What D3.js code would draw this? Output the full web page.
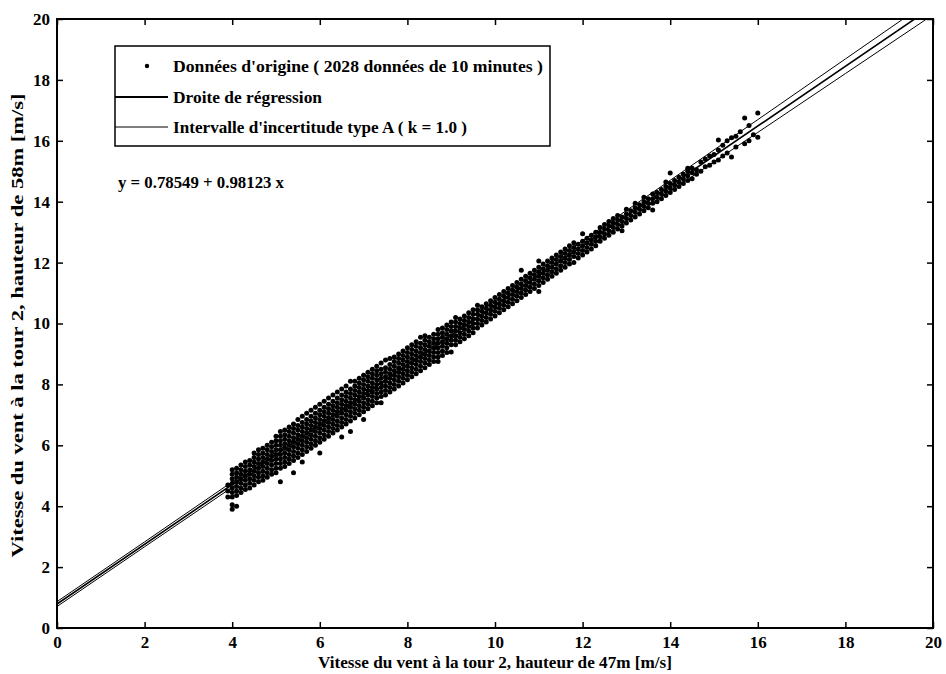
<!DOCTYPE html>
<html>
<head>
<meta charset="utf-8">
<script src="https://cdn.jsdelivr.net/npm/d3@7"></script>
<style>
  body { margin: 0; background: #fff; }
  svg text { font-family: "Liberation Serif", "DejaVu Serif", serif; font-weight: bold; fill: #000; }
</style>
</head>
<body>
<svg id="chart" width="946" height="674"></svg>
<script>
// regression from the printed equation
const intercept = 0.78549;
const slope = 0.98123;

const xTicks = [0, 2, 4, 6, 8, 10, 12, 14, 16, 18, 20];
const yTicks = [0, 2, 4, 6, 8, 10, 12, 14, 16, 18, 20];

// half width of the type A band, read along x
const bandX = [0, 2, 4, 6, 8, 10, 12, 14, 16, 18, 20];
const bandHalf = [0.08, 0.08, 0.09, 0.10, 0.12, 0.14, 0.16, 0.18, 0.21, 0.24, 0.27];

const legendLabels = [
  "Données d'origine ( 2028 données de 10 minutes )",
  "Droite de régression",
  "Intervalle d'incertitude type A ( k = 1.0 )"
];
const equationText = "y = 0.78549 + 0.98123 x";
const xTitle = "Vitesse du vent à la tour 2, hauteur de 47m [m/s]";
const yTitle = "Vitesse du vent à la tour 2, hauteur de 58m [m/s]";

// scatter columns: [x, [y values]]
const cloudLow = [
  [3.9, [4.3, 4.5, 4.7]],
  [4.0, [3.9, 4.05, 4.3, 4.45, 4.6, 4.75, 4.9, 5.05, 5.2]],
  [4.1, [4.0, 4.35, 4.5, 4.65, 4.8, 4.95, 5.1, 5.25]],
  [4.2, [4.45, 4.6, 4.75, 4.9, 5.05, 5.2, 5.35]],
  [4.3, [4.55, 4.7, 4.85, 5.0, 5.15, 5.3, 5.45]],
  [4.4, [4.6, 4.75, 4.9, 5.05, 5.2, 5.35, 5.5]],
  [4.5, [4.7, 4.85, 5.0, 5.15, 5.3, 5.45, 5.6, 5.75]],
  [4.6, [4.8, 4.95, 5.1, 5.25, 5.4, 5.55, 5.7, 5.85]],
  [4.7, [4.85, 5.0, 5.15, 5.3, 5.45, 5.6, 5.75, 5.9]],
  [4.8, [4.95, 5.1, 5.25, 5.4, 5.55, 5.7, 5.85, 6.0]],
  [4.9, [5.05, 5.2, 5.35, 5.5, 5.65, 5.8, 5.95, 6.1]],
  [5.0, [5.1, 5.25, 5.4, 5.55, 5.7, 5.85, 6.0, 6.15, 6.3]],
  [5.1, [4.8, 5.25, 5.4, 5.55, 5.7, 5.85, 6.0, 6.15, 6.3, 6.45]],
  [5.2, [5.3, 5.45, 5.6, 5.75, 5.9, 6.05, 6.2, 6.35, 6.5]],
  [5.3, [5.4, 5.55, 5.7, 5.85, 6.0, 6.15, 6.3, 6.45, 6.6]],
  [5.4, [5.1, 5.5, 5.65, 5.8, 5.95, 6.1, 6.25, 6.4, 6.55, 6.7]],
  [5.5, [5.6, 5.75, 5.9, 6.05, 6.2, 6.35, 6.5, 6.65, 6.85]],
  [5.6, [5.45, 5.7, 5.85, 6.0, 6.15, 6.3, 6.45, 6.6, 6.75, 6.95]],
  [5.7, [5.8, 5.95, 6.1, 6.25, 6.4, 6.55, 6.7, 6.85, 7.05]],
  [5.8, [5.9, 6.05, 6.2, 6.35, 6.5, 6.65, 6.8, 6.95, 7.15]],
  [5.9, [6.0, 6.15, 6.3, 6.45, 6.6, 6.75, 6.9, 7.05, 7.25]],
  [6.0, [5.75, 6.1, 6.25, 6.4, 6.55, 6.7, 6.85, 7.0, 7.15, 7.35]],
  [6.1, [6.2, 6.35, 6.5, 6.65, 6.8, 6.95, 7.1, 7.25, 7.45]],
  [6.2, [6.3, 6.45, 6.6, 6.75, 6.9, 7.05, 7.2, 7.35, 7.55]],
  [6.3, [6.4, 6.55, 6.7, 6.85, 7.0, 7.15, 7.3, 7.45, 7.65]],
  [6.4, [6.5, 6.65, 6.8, 6.95, 7.1, 7.25, 7.4, 7.55, 7.75]],
  [6.5, [6.27, 6.6, 6.75, 6.9, 7.05, 7.2, 7.35, 7.5, 7.65, 7.85]],
  [6.6, [6.7, 6.85, 7.0, 7.15, 7.3, 7.45, 7.6, 7.75, 7.95]],
  [6.7, [6.45, 6.8, 6.95, 7.1, 7.25, 7.4, 7.55, 7.7, 7.85, 8.1]],
  [6.8, [6.9, 7.05, 7.2, 7.35, 7.5, 7.65, 7.8, 7.95, 8.1]],
  [6.9, [7.0, 7.15, 7.3, 7.45, 7.6, 7.75, 7.9, 8.05, 8.2]],
  [7.0, [6.85, 7.1, 7.25, 7.4, 7.55, 7.7, 7.85, 8.0, 8.15, 8.3]]
];

const cloudMid = [
  [7.1, [7.2, 7.35, 7.5, 7.65, 7.8, 7.95, 8.1, 8.25, 8.4]],
  [7.2, [7.3, 7.45, 7.6, 7.75, 7.9, 8.05, 8.2, 8.35, 8.5]],
  [7.3, [7.4, 7.55, 7.7, 7.85, 8.0, 8.15, 8.3, 8.45, 8.6]],
  [7.4, [7.4, 7.6, 7.75, 7.9, 8.05, 8.2, 8.35, 8.5, 8.7]],
  [7.5, [7.65, 7.8, 7.95, 8.1, 8.25, 8.4, 8.55, 8.8]],
  [7.6, [7.75, 7.9, 8.05, 8.2, 8.35, 8.5, 8.65, 8.85]],
  [7.7, [7.85, 8.0, 8.15, 8.3, 8.45, 8.6, 8.75, 8.9]],
  [7.8, [7.95, 8.1, 8.25, 8.4, 8.55, 8.7, 8.85, 9.0]],
  [7.9, [8.05, 8.2, 8.35, 8.5, 8.65, 8.8, 8.95, 9.1]],
  [8.0, [8.15, 8.3, 8.45, 8.6, 8.75, 8.9, 9.05, 9.2]],
  [8.1, [8.25, 8.4, 8.55, 8.7, 8.85, 9.0, 9.15, 9.3]],
  [8.2, [8.35, 8.5, 8.65, 8.8, 8.95, 9.1, 9.25, 9.4]],
  [8.3, [8.45, 8.6, 8.75, 8.9, 9.05, 9.2, 9.35, 9.55]],
  [8.4, [8.55, 8.7, 8.85, 9.0, 9.15, 9.3, 9.45, 9.6]],
  [8.5, [8.65, 8.8, 8.95, 9.1, 9.25, 9.4, 9.55]],
  [8.6, [8.75, 8.9, 9.05, 9.2, 9.35, 9.5, 9.65]],
  [8.7, [8.75, 8.9, 9.05, 9.2, 9.35, 9.5, 9.65, 9.8]],
  [8.8, [8.95, 9.1, 9.25, 9.4, 9.55, 9.7, 9.85]],
  [8.9, [9.05, 9.2, 9.35, 9.5, 9.65, 9.8, 9.95]],
  [9.0, [9.06, 9.3, 9.45, 9.6, 9.75, 9.9, 10.05]],
  [9.1, [9.3, 9.45, 9.6, 9.75, 9.9, 10.05, 10.2]],
  [9.2, [9.4, 9.55, 9.7, 9.85, 10.0, 10.15]],
  [9.3, [9.5, 9.65, 9.8, 9.95, 10.1, 10.25]],
  [9.4, [9.6, 9.75, 9.9, 10.05, 10.2, 10.35]],
  [9.5, [9.7, 9.85, 10.0, 10.15, 10.3, 10.45]],
  [9.6, [9.85, 10.0, 10.15, 10.3, 10.45, 10.6]],
  [9.7, [9.95, 10.1, 10.25, 10.4, 10.55]],
  [9.8, [10.05, 10.2, 10.35, 10.5, 10.65]],
  [9.9, [10.15, 10.3, 10.45, 10.6, 10.75]],
  [10.0, [10.25, 10.4, 10.55, 10.7, 10.85]],
  [10.1, [10.35, 10.5, 10.65, 10.8, 10.95]],
  [10.2, [10.45, 10.6, 10.75, 10.9, 11.05]],
  [10.3, [10.55, 10.7, 10.85, 11.0, 11.15]],
  [10.4, [10.65, 10.8, 10.95, 11.1, 11.25]],
  [10.5, [10.75, 10.9, 11.05, 11.2, 11.35]],
  [10.6, [10.85, 11.0, 11.15, 11.3, 11.45, 11.75]],
  [10.7, [10.95, 11.1, 11.25, 11.4, 11.55]],
  [10.8, [11.05, 11.2, 11.35, 11.5, 11.65]],
  [10.9, [11.15, 11.3, 11.45, 11.6, 11.75]],
  [11.0, [11.05, 11.25, 11.4, 11.55, 11.7, 11.85, 12.05]]
];

const cloudHigh = [
  [11.1, [11.35, 11.5, 11.65, 11.8, 11.95]],
  [11.2, [11.45, 11.6, 11.75, 11.9, 12.05]],
  [11.3, [11.55, 11.7, 11.85, 12.0, 12.15]],
  [11.4, [11.65, 11.8, 11.95, 12.1, 12.25]],
  [11.5, [11.75, 11.9, 12.05, 12.2, 12.35]],
  [11.6, [11.85, 12.0, 12.15, 12.3, 12.45]],
  [11.7, [11.95, 12.1, 12.25, 12.4, 12.55]],
  [11.8, [12.0, 12.2, 12.35, 12.5, 12.65]],
  [11.9, [12.15, 12.3, 12.45, 12.6]],
  [12.0, [12.25, 12.4, 12.55, 12.7, 12.95]],
  [12.1, [12.35, 12.5, 12.65, 12.8]],
  [12.2, [12.45, 12.6, 12.75, 12.9]],
  [12.3, [12.55, 12.7, 12.85, 13.0]],
  [12.4, [12.7, 12.85, 13.0, 13.15]],
  [12.5, [12.8, 12.95, 13.1, 13.25]],
  [12.6, [12.9, 13.05, 13.2, 13.35]],
  [12.7, [13.0, 13.15, 13.3, 13.45]],
  [12.8, [13.1, 13.25, 13.4, 13.55]],
  [12.9, [13.05, 13.2, 13.35, 13.5]],
  [13.0, [13.3, 13.45, 13.6, 13.75]],
  [13.1, [13.4, 13.55, 13.7]],
  [13.2, [13.5, 13.65, 13.8, 13.95]],
  [13.3, [13.6, 13.75, 13.9]],
  [13.4, [13.7, 13.85, 14.0, 14.15]],
  [13.5, [13.8, 13.95, 14.1]],
  [13.6, [13.73, 13.95, 14.1, 14.25]],
  [13.7, [14.0, 14.15, 14.3]],
  [13.8, [14.1, 14.25, 14.4]],
  [13.9, [14.2, 14.35, 14.5, 14.65]],
  [14.0, [14.3, 14.45, 14.6, 14.94]],
  [14.1, [14.4, 14.55, 14.7]],
  [14.2, [14.5, 14.65, 14.8]],
  [14.3, [14.6, 14.75, 14.9]],
  [14.4, [14.7, 14.85, 15.0, 15.1]],
  [14.5, [14.75, 14.95, 15.1]],
  [14.6, [14.9, 15.05]],
  [14.7, [15.0, 15.3]],
  [14.8, [15.15, 15.4]],
  [14.9, [15.2, 15.5]],
  [15.0, [15.3, 15.55]],
  [15.1, [15.37, 15.7, 16.03]],
  [15.2, [15.5, 15.85]],
  [15.3, [15.6, 16.0]],
  [15.4, [15.47, 16.1]],
  [15.5, [15.8, 16.15]],
  [15.6, [16.3]],
  [15.7, [15.9, 16.75]],
  [15.8, [16.0, 16.5]],
  [15.9, [16.2]],
  [16.0, [16.12, 16.91]]
];

const svg = d3.select("#chart");
const margin = {left: 57, right: 13, top: 19, bottom: 46};
const width = 946, height = 674;

const x = d3.scaleLinear().domain([0, 20]).range([margin.left, width - margin.right]);
const y = d3.scaleLinear().domain([0, 20]).range([height - margin.bottom, margin.top]);

svg.append("defs").append("clipPath").attr("id", "plotclip")
  .append("rect")
  .attr("x", x(0)).attr("y", y(20))
  .attr("width", x(20) - x(0)).attr("height", y(0) - y(20));

// scatter
const points = [];
[cloudLow, cloudMid, cloudHigh].forEach(group => {
  group.forEach(([xv, ys]) => ys.forEach(yv => points.push({x: xv, y: yv})));
});

const plot = svg.append("g").attr("clip-path", "url(#plotclip)");

plot.append("g")
  .selectAll("circle")
  .data(points)
  .join("circle")
    .attr("cx", d => x(d.x))
    .attr("cy", d => y(d.y))
    .attr("r", 2.5)
    .attr("fill", "#000");

// regression + band
const fit = v => intercept + slope * v;
const line = d3.line().x(d => x(d[0])).y(d => y(d[1]));

plot.append("path")
  .datum([[0, fit(0)], [20, fit(20)]])
  .attr("d", line)
  .attr("fill", "none").attr("stroke", "#000").attr("stroke-width", 1.6);

[1, -1].forEach(sign => {
  plot.append("path")
    .datum(bandX.map((v, i) => [v, fit(v) + sign * bandHalf[i]]))
    .attr("d", line)
    .attr("fill", "none").attr("stroke", "#000").attr("stroke-width", 1);
});

// axes
const xAxis = svg.append("g")
  .attr("transform", `translate(0,${y(0)})`)
  .call(d3.axisBottom(x).tickValues(xTicks).tickSizeInner(-6).tickSizeOuter(0).tickPadding(8).tickFormat(d3.format("d")));
const yAxis = svg.append("g")
  .attr("transform", `translate(${x(0)},0)`)
  .call(d3.axisLeft(y).tickValues(yTicks).tickSizeInner(-6).tickSizeOuter(0).tickPadding(7).tickFormat(d3.format("d")));
const topAxis = svg.append("g")
  .attr("transform", `translate(0,${y(20)})`)
  .call(d3.axisTop(x).tickValues(xTicks).tickSizeInner(-6).tickSizeOuter(0).tickFormat(""));
const rightAxis = svg.append("g")
  .attr("transform", `translate(${x(20)},0)`)
  .call(d3.axisRight(y).tickValues(yTicks).tickSizeInner(-6).tickSizeOuter(0).tickFormat(""));

[xAxis, yAxis, topAxis, rightAxis].forEach(a => {
  a.select(".domain").remove();
  a.selectAll(".tick line").attr("stroke", "#000").attr("stroke-width", 1.5);
  a.selectAll(".tick text")
    .attr("font-family", "Liberation Serif, serif")
    .attr("font-size", 17)
    .attr("font-weight", "bold")
    .attr("fill", "#000");
});

svg.append("rect")
  .attr("x", x(0)).attr("y", y(20))
  .attr("width", x(20) - x(0)).attr("height", y(0) - y(20))
  .attr("fill", "none").attr("stroke", "#000").attr("stroke-width", 2);

// titles
svg.append("text")
  .attr("x", (x(0) + x(20)) / 2).attr("y", 668)
  .attr("text-anchor", "middle")
  .attr("font-size", 17)
  .attr("textLength", 354)
  .attr("lengthAdjust", "spacingAndGlyphs")
  .text(xTitle);

svg.append("text")
  .attr("transform", `translate(23,${(y(0) + y(20)) / 2 + 2}) rotate(-90)`)
  .attr("text-anchor", "middle")
  .attr("font-size", 16)
  .attr("textLength", 464)
  .attr("lengthAdjust", "spacingAndGlyphs")
  .text(yTitle);

// legend
const legend = svg.append("g");
legend.append("rect")
  .attr("x", 115).attr("y", 46).attr("width", 435).attr("height", 100)
  .attr("fill", "#fff").attr("stroke", "#000").attr("stroke-width", 1.5);

const rowY = [66, 97, 127];
legend.append("circle").attr("cx", 147).attr("cy", rowY[0]).attr("r", 2.2).attr("fill", "#000");
legend.append("line").attr("x1", 115).attr("x2", 168).attr("y1", rowY[1]).attr("y2", rowY[1])
  .attr("stroke", "#000").attr("stroke-width", 1.8);
legend.append("line").attr("x1", 115).attr("x2", 168).attr("y1", rowY[2]).attr("y2", rowY[2])
  .attr("stroke", "#000").attr("stroke-width", 1.1);

const labelLen = [370, 149, 294];
legend.selectAll("text.lab")
  .data(legendLabels)
  .join("text")
    .attr("class", "lab")
    .attr("x", 173)
    .attr("y", (d, i) => rowY[i] + 6)
    .attr("font-size", 17)
    .attr("textLength", (d, i) => labelLen[i])
    .attr("lengthAdjust", "spacingAndGlyphs")
    .text(d => d);

svg.append("text")
  .attr("x", 118).attr("y", 188)
  .attr("font-size", 17)
  .attr("textLength", 166)
  .attr("lengthAdjust", "spacingAndGlyphs")
  .text(equationText);
</script>
</body>
</html>
